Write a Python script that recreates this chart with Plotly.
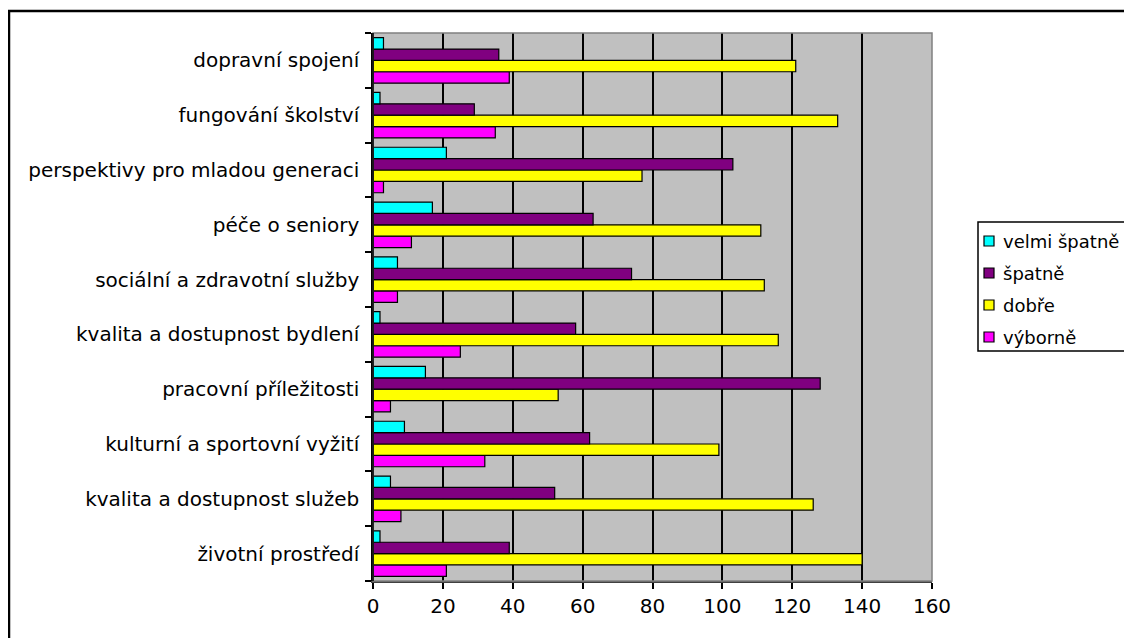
import plotly.graph_objects as go

categories = [
    "životní prostředí",
    "kvalita a dostupnost služeb",
    "kulturní a sportovní vyžití",
    "pracovní příležitosti",
    "kvalita a dostupnost bydlení",
    "sociální a zdravotní služby",
    "péče o seniory",
    "perspektivy pro mladou generaci",
    "fungování školství",
    "dopravní spojení",
]

velmi_spatne = [2, 5, 9, 15, 2, 7, 17, 21, 2, 3]
spatne = [39, 52, 62, 128, 58, 74, 63, 103, 29, 36]
dobre = [140, 126, 99, 53, 116, 112, 111, 77, 133, 121]
vyborne = [21, 8, 32, 5, 25, 7, 11, 3, 35, 39]

x_ticks = [0, 20, 40, 60, 80, 100, 120, 140, 160]

series_names = ["velmi špatně", "špatně", "dobře", "výborně"]
series_values = [velmi_spatne, spatne, dobre, vyborne]
series_colors = ["#00FFFF", "#800080", "#FFFF00", "#FF00FF"]

FONT = "DejaVu Sans, Arial, sans-serif"
FS = 20
LEG_FS = 18

fig = go.Figure()
# horizontal grouped bars are stacked bottom-to-top in trace order,
# so add them reversed to get "velmi špatně" on top of each group
for name, vals, color in reversed(list(zip(series_names, series_values, series_colors))):
    fig.add_trace(go.Bar(
        y=categories, x=vals, name=name, orientation="h",
        marker=dict(color=color, line=dict(color="#000000", width=1.2)),
        showlegend=False,
    ))

# page has an 8px body margin: work in figure coordinates (screen - 8)
W, H = 1124, 630
L, R, T, B = 365, 924, 25, 573
pw, ph = R - L, B - T

def px(xpix):
    return (xpix - L) / pw

def py(ypix):
    return (B - ypix) / ph

shapes = [
    dict(type="rect", xref="paper", yref="paper", x0=0, x1=1, y0=0, y1=1,
         line=dict(color="#808080", width=1.5), fillcolor="rgba(0,0,0,0)", layer="above"),
    dict(type="line", xref="paper", yref="paper", x0=0, x1=0, y0=0, y1=1,
         line=dict(color="#000000", width=1.5), layer="above"),
    # outer chart border
    dict(type="rect", xref="paper", yref="paper",
         x0=px(1), x1=px(1300), y0=py(800), y1=py(3),
         line=dict(color="#000000", width=2.5), fillcolor="rgba(0,0,0,0)"),
    # legend box
    dict(type="rect", xref="paper", yref="paper",
         x0=px(970), x1=px(1300), y0=py(343), y1=py(214),
         line=dict(color="#000000", width=1.5), fillcolor="#FFFFFF"),
]
annotations = []
row_y = [233, 265, 297, 329]
for name, color, yy in zip(series_names, series_colors, row_y):
    shapes.append(dict(type="rect", xref="paper", yref="paper",
                       x0=px(976), x1=px(986), y0=py(yy + 5), y1=py(yy - 5),
                       line=dict(color="#000000", width=1.2), fillcolor=color))
    annotations.append(dict(xref="paper", yref="paper", x=px(994), y=py(yy),
                            xanchor="left", yanchor="middle", showarrow=False,
                            borderpad=0,
                            text=name, font=dict(family=FONT, size=LEG_FS, color="#000000")))

fig.update_layout(
    width=W, height=H,
    margin=dict(l=L, r=W - R, t=T, b=H - B, autoexpand=False),
    paper_bgcolor="#FFFFFF",
    plot_bgcolor="#C0C0C0",
    barmode="group",
    bargap=0.17,
    bargroupgap=0,
    font=dict(family=FONT, size=FS, color="#000000"),
    showlegend=False,
    xaxis=dict(
        range=[0, 160], tickvals=x_ticks, ticktext=[str(v) for v in x_ticks],
        showgrid=True, gridcolor="#000000", gridwidth=1.5,
        zeroline=False,
        showline=True, linecolor="#404040", linewidth=1.5,
        ticks="outside", ticklen=6, tickcolor="#000000", tickwidth=1.5,
        tickfont=dict(family=FONT, size=FS, color="#000000"),
        fixedrange=True,
    ),
    yaxis=dict(
        categoryorder="array", categoryarray=categories,
        showgrid=False, zeroline=False,
        showline=True, linecolor="#000000", linewidth=1.5,
        ticks="outside", ticklen=6, tickcolor="#000000", tickwidth=1.5,
        tickson="boundaries",
        ticklabelstandoff=8,
        tickfont=dict(family=FONT, size=FS, color="#000000"),
        fixedrange=True,
    ),
    shapes=shapes,
    annotations=annotations,
)

fig.write_html("out.html")
